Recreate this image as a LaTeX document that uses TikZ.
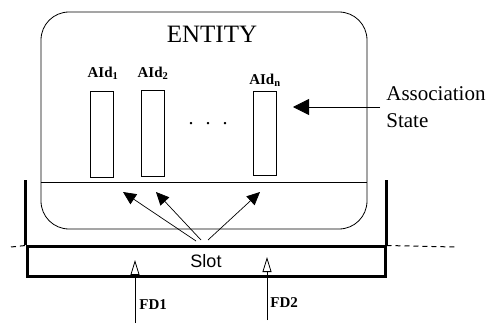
\documentclass[tikz,border=0pt]{standalone}
\usepackage{fontspec}
\setmainfont{Liberation Serif}
\newfontfamily\slotfont{Liberation Sans}
\usetikzlibrary{calc,positioning,arrows.meta}
\tikzset{
  idbox/.style={draw,line width=0.9pt,minimum width=23pt,minimum height=86pt,inner sep=0pt},
  idlabel/.style={font=\bfseries\fontsize{15}{18}\selectfont,inner sep=0pt},
  wall/.style={line width=3pt},
  solidtip/.style={line width=0.7pt,-{Triangle[length=13pt,width=12pt]}},
  opentip/.style={line width=0.8pt,-{Triangle[open,length=15pt,width=9pt]}},
}

\begin{document}
\begin{tikzpicture}[x=1pt,y=-1pt,line width=0.8pt]
\useasboundingbox (0,0) rectangle (491,329);
\node[draw,rounded corners=28pt,minimum width=326pt,minimum height=217pt] (entity) at (204,120.5) {};
\node[font=\fontsize{25}{30}\selectfont] (title) at (212,34) {ENTITY};
\coordinate (floor) at (0,182);
\draw (entity.west |- floor) -- (entity.east |- floor);
% association ids
\node[idbox] (aid1) at (101.5,134) {};
\node[idbox] (aid2) at (153,133) {};
\node[idbox,minimum height=84pt] (aidn) at (265,133) {};
\node[idlabel] (lbl1) at (103,73) {AId\textsubscript{1}};
\node[idlabel] (lbl2) at (153,73) {AId\textsubscript{2}};
\node[idlabel] (lbln) at (265,80) {AId\textsubscript{n}};
\node[font=\fontsize{20}{20}\selectfont] (dots) at (208,124) {.\hspace{12pt}.\hspace{12pt}.};
\node[anchor=west,align=left,inner xsep=6pt,inner ysep=0pt,font=\fontsize{21}{27}\selectfont] (assoc) at (380,107) {Association\\State};
\coordinate (astip) at (293,107);
\draw[-{Triangle[length=16pt,width=16pt]}] (assoc.west) -- (astip);
% slot
\node[draw,wall,minimum width=358pt,minimum height=29pt,inner sep=0pt,font=\slotfont\fontsize{18}{20}\selectfont] (slot) at (206,261.5) {Slot};
\draw[wall] (slot.north west) -- ++(0,-65);
\draw[wall] (slot.north east) -- ++(0,-65);
\coordinate (dl) at (11,247);
\coordinate (dr) at (455,247);
\draw[line width=1pt,dash pattern=on 5pt off 4pt] (dl) -- (slot.north west);
\draw[line width=1pt,dash pattern=on 5pt off 4pt] (slot.north east) -- (dr);
\coordinate (fan1) at (196,241);
\coordinate (fan2) at (201,240);
\coordinate (fan3) at (208,240);
\coordinate (tip1) at (123,192);
\coordinate (tip2) at (156,192);
\coordinate (tipn) at (260,192);
\draw[solidtip] (fan1) -- (tip1);
\draw[solidtip] (fan2) -- (tip2);
\draw[solidtip] (fan3) -- (tipn);
% feeds
\coordinate (in1) at (135,323);
\coordinate (in2) at (267,320);
\coordinate (up1) at (135,260);
\coordinate (up2) at (267,257);
\draw[opentip] (in1) -- (up1);
\draw[opentip] (in2) -- (up2);
\node[anchor=west,inner sep=0pt,font=\bfseries\fontsize{15}{18}\selectfont] (fd1) at (139,305) {FD1};
\node[anchor=west,inner sep=0pt,font=\bfseries\fontsize{15}{18}\selectfont] (fd2) at (270,303) {FD2};
\end{tikzpicture}
\end{document}
